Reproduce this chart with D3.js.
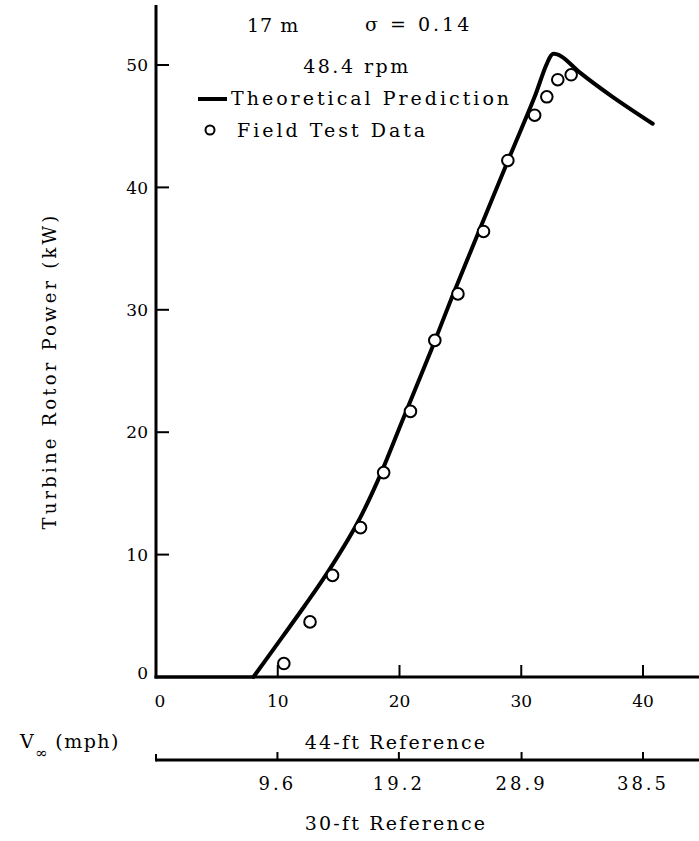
<!DOCTYPE html>
<html>
<head>
<meta charset="utf-8">
<script src="https://cdn.jsdelivr.net/npm/d3@7"></script>
<style>
  html, body { margin: 0; padding: 0; background: #fff; }
  svg { display: block; }
  text { font-family: "DejaVu Serif", "Liberation Serif", serif; fill: #000; }
</style>
</head>
<body>
<svg id="chart" width="699" height="841"></svg>
<script>
// ---- data ----
const theoryWind  = [0, 8.0, 10.4, 12.2, 14.0, 16.5, 18.2, 20.3, 22.6, 24.3, 26.6, 29.0, 31.1, 32.1, 32.6, 33.3, 34.8, 37.5, 40.8];
const theoryPower = [0, 0, 3.3, 5.8, 8.4, 12.5, 16.0, 21.1, 26.7, 31.0, 36.6, 42.4, 47.4, 50.1, 50.9, 50.7, 49.4, 47.4, 45.2];
const fieldWind   = [10.5, 12.65, 14.5, 16.8, 18.7, 20.9, 22.9, 24.8, 26.9, 28.9, 31.1, 32.1, 33.0, 34.1];
const fieldPower  = [1.1, 4.5, 8.3, 12.2, 16.7, 21.7, 27.5, 31.3, 36.4, 42.2, 45.9, 47.4, 48.8, 49.2];
const xTicks  = [0, 10, 20, 30, 40];
const yTicks  = [0, 10, 20, 30, 40, 50];
const x2Ticks = [9.6, 19.2, 28.9, 38.5];
const x2Max = 38.5;  // 30-ft reference value corresponding to 40 mph at 44 ft

const svg = d3.select("#chart");

const x = d3.scaleLinear().domain([0, 40]).range([156, 643]);
const y = d3.scaleLinear().domain([0, 50]).range([677, 65]);
const x2 = d3.scaleLinear().domain([0, x2Max]).range([x(0), x(40)]);

const axisW = 3;

// y axis line
svg.append("line").attr("x1", x(0)).attr("x2", x(0)).attr("y1", 5).attr("y2", y(0) + 1.5)
  .attr("stroke", "#000").attr("stroke-width", axisW);
// x axis line
svg.append("line").attr("x1", x(0) - 1.5).attr("x2", 699).attr("y1", y(0)).attr("y2", y(0))
  .attr("stroke", "#000").attr("stroke-width", axisW);

// y ticks (pointing right)
svg.selectAll(".ytick").data(yTicks.filter(d => d > 0)).enter().append("line")
  .attr("x1", x(0)).attr("x2", x(0) + 13)
  .attr("y1", d => y(d)).attr("y2", d => y(d))
  .attr("stroke", "#000").attr("stroke-width", 2);
svg.selectAll(".ylab").data(yTicks).enter().append("text")
  .attr("x", 148).attr("y", d => y(d) - (d === 0 ? 4 : 0)).attr("dy", "0.36em")
  .attr("text-anchor", "end").attr("font-size", 17).text(d => d);

// x ticks (pointing up)
svg.selectAll(".xtick").data(xTicks.filter(d => d > 0)).enter().append("line")
  .attr("x1", d => x(d)).attr("x2", d => x(d))
  .attr("y1", y(0)).attr("y2", y(0) - 12)
  .attr("stroke", "#000").attr("stroke-width", 2);
svg.selectAll(".xlab").data(xTicks).enter().append("text")
  .attr("x", d => x(d) + (d === 0 ? 4 : 0)).attr("y", 701).attr("dy", "0.36em")
  .attr("text-anchor", "middle").attr("font-size", 17).text(d => d);

// secondary axis (30-ft reference)
const y2 = 760;
svg.append("line").attr("x1", x2(0)).attr("x2", 699).attr("y1", y2).attr("y2", y2)
  .attr("stroke", "#000").attr("stroke-width", axisW);
svg.append("line").attr("x1", x2(0)).attr("x2", x2(0)).attr("y1", y2 + 1.5).attr("y2", y2 - 6)
  .attr("stroke", "#000").attr("stroke-width", 2);
svg.selectAll(".x2tick").data(x2Ticks).enter().append("line")
  .attr("x1", d => x2(d)).attr("x2", d => x2(d))
  .attr("y1", y2).attr("y2", y2 - 8)
  .attr("stroke", "#000").attr("stroke-width", 2);
svg.selectAll(".x2lab").data(x2Ticks).enter().append("text")
  .attr("x", d => x2(d)).attr("y", 784).attr("dy", "0.36em")
  .attr("text-anchor", "middle").attr("font-size", 18).attr("letter-spacing", 3)
  .text(d => d.toFixed(1));

// axis titles
svg.append("text").attr("x", 396).attr("y", 742).attr("dy", "0.36em")
  .attr("text-anchor", "middle").attr("font-size", 19).attr("letter-spacing", 2.2)
  .text("44-ft Reference");
svg.append("text").attr("x", 396).attr("y", 823).attr("dy", "0.36em")
  .attr("text-anchor", "middle").attr("font-size", 19).attr("letter-spacing", 2.2)
  .text("30-ft Reference");
const vlab = svg.append("text").attr("x", 20).attr("y", 748).attr("font-size", 19).attr("letter-spacing", 1.5);
vlab.append("tspan").text("V");
vlab.append("tspan").attr("dy", 10).attr("font-size", 15).text("\u221E");
vlab.append("tspan").attr("dy", -10).attr("dx", 6).text("(mph)");

svg.append("text")
  .attr("transform", "translate(50,371) rotate(-90)")
  .attr("dy", "0.36em").attr("text-anchor", "middle")
  .attr("font-size", 18).attr("letter-spacing", 3.2)
  .text("Turbine Rotor Power (kW)");

// header texts
svg.append("text").attr("x", 247).attr("y", 25).attr("dy", "0.36em").attr("font-size", 19)
  .attr("letter-spacing", 1).text("17 m");
svg.append("text").attr("x", 365).attr("y", 24).attr("dy", "0.36em").attr("font-size", 19)
  .attr("letter-spacing", 3).attr("xml:space", "preserve").text("\u03C3 = 0.14");
svg.append("text").attr("x", 357).attr("y", 66).attr("dy", "0.36em").attr("text-anchor", "middle")
  .attr("font-size", 19).attr("letter-spacing", 2.5).text("48.4 rpm");

// legend
svg.append("line").attr("x1", 198).attr("x2", 227).attr("y1", 99).attr("y2", 99)
  .attr("stroke", "#000").attr("stroke-width", 4);
svg.append("text").attr("x", 231).attr("y", 98).attr("dy", "0.36em").attr("font-size", 19)
  .attr("letter-spacing", 3).text("Theoretical Prediction");
svg.append("circle").attr("cx", 210).attr("cy", 130).attr("r", 4.5)
  .attr("fill", "none").attr("stroke", "#000").attr("stroke-width", 2);
svg.append("text").attr("x", 237).attr("y", 130).attr("dy", "0.36em").attr("font-size", 19)
  .attr("letter-spacing", 3).text("Field Test Data");

// theoretical curve: flat part straight, rising part smooth
const theory = theoryWind.map((w, i) => [w, theoryPower[i]]);
const cut = theoryPower.findIndex((p, i) => i > 0 && p > 0) - 1;
const flatPart = theory.slice(0, cut + 1);
const risePart = theory.slice(cut);
const lineLin = d3.line().x(d => x(d[0])).y(d => y(d[1]));
const lineSmooth = d3.line().x(d => x(d[0])).y(d => y(d[1])).curve(d3.curveCatmullRom.alpha(0.5));
svg.append("path").datum(flatPart).attr("d", lineLin)
  .attr("fill", "none").attr("stroke", "#000").attr("stroke-width", 3);
svg.append("path").datum(risePart).attr("d", lineSmooth)
  .attr("fill", "none").attr("stroke", "#000").attr("stroke-width", 4)
  .attr("stroke-linecap", "round").attr("stroke-linejoin", "round");

// field data
const field = fieldWind.map((w, i) => [w, fieldPower[i]]);
svg.selectAll(".pt").data(field).enter().append("circle")
  .attr("cx", d => x(d[0])).attr("cy", d => y(d[1])).attr("r", 5.8)
  .attr("fill", "#fff").attr("stroke", "#000").attr("stroke-width", 2);
</script>
</body>
</html>
